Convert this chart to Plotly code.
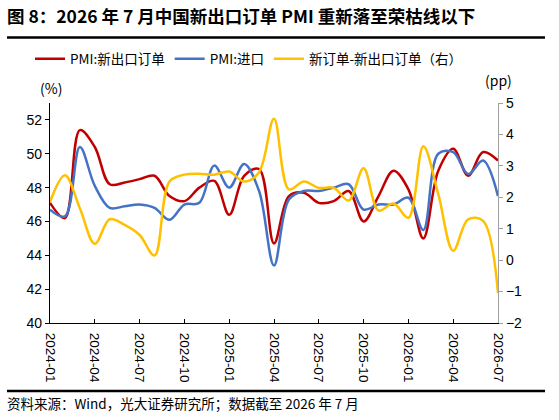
import pandas as pd
import plotly.graph_objects as go

# monthly, 2024-01 .. 2026-07
months = pd.date_range("2024-01-01", "2026-07-01", freq="MS").strftime("%Y-%m").tolist()

pmi_new_export = [47.1, 46.2, 51.4, 50.4, 48.2, 48.3, 48.5, 48.7, 47.5, 47.2,
                  48.0, 48.4, 46.4, 48.7, 49.1, 44.7, 47.5, 47.7, 47.1, 47.2,
                  47.8, 46.0, 47.5, 49.0, 47.9, 45.0, 49.0, 50.3, 48.7, 50.1, 49.6]
pmi_import = [46.7, 46.3, 50.4, 48.1, 46.8, 46.9, 47.0, 46.8, 46.1, 47.0,
              47.1, 49.3, 48.0, 49.4, 47.8, 43.4, 47.3, 47.8, 47.8, 48.0,
              48.2, 46.7, 47.0, 47.0, 47.4, 45.5, 50.0, 50.1, 48.8, 49.6, 47.5]
new_minus_export = [1.85, 2.7, 1.65, 0.52, 1.3, 1.12, 0.8, 0.15, 2.5, 2.72,
                    2.75, 2.72, 2.82, 2.5, 2.8, 4.5, 2.25, 2.5, 2.3, 2.3,
                    1.9, 2.92, 1.58, 1.8, 1.35, 3.62, 2.1, 0.3, 1.3, 1.25, -1.05]

W, H = 559, 420
ML, MR, MT, MB = 50, 61, 103, 97
PW, PH = W - ML - MR, H - MT - MB


def px(x):
    return (x - ML) / PW


def py(y):
    return (H - MB - y) / PH


CJK = "Noto Sans CJK SC"
TICKF = "Liberation Sans, Noto Sans CJK SC"

fig = go.Figure()
fig.add_trace(go.Scatter(x=months, y=pmi_new_export, name="PMI:新出口订单", mode="lines",
                         line=dict(color="#C00000", width=2.5, shape="spline", smoothing=1)))
fig.add_trace(go.Scatter(x=months, y=pmi_import, name="PMI:进口", mode="lines",
                         line=dict(color="#4472C4", width=2.5, shape="spline", smoothing=1)))
fig.add_trace(go.Scatter(x=months, y=new_minus_export, name="新订单-新出口订单（右）", mode="lines",
                         yaxis="y2",
                         line=dict(color="#FFC000", width=2.5, shape="spline", smoothing=1)))

fig.update_layout(
    width=W, height=H,
    margin=dict(l=ML, r=MR, t=MT, b=MB, autoexpand=False),
    paper_bgcolor="white", plot_bgcolor="white",
    font=dict(family=CJK, size=13, color="black"),
    xaxis=dict(type="category", range=[0, len(months) - 1],
               tickvals=months[::3], ticktext=months[::3], tickangle=90,
               ticks="inside", ticklen=4, tickcolor="black", ticklabelstandoff=6,
               showline=True, linecolor="black", linewidth=1.3, showgrid=False,
               tickfont=dict(family=TICKF, size=13.5), automargin=False),
    yaxis=dict(range=[40, 53], tickvals=[40, 42, 44, 46, 48, 50, 52],
               ticks="outside", ticklen=4, tickcolor="black",
               showline=True, linecolor="black", linewidth=1.3, showgrid=False,
               zeroline=False, tickfont=dict(family=TICKF, size=14), automargin=False),
    yaxis2=dict(range=[-2, 5], dtick=1, overlaying="y", side="right",
                ticks="outside", ticklen=4, tickcolor="#A0A0A0",
                showline=True, linecolor="#A0A0A0", linewidth=1.3, showgrid=False,
                zeroline=False, tickfont=dict(family=TICKF, size=14), automargin=False),
    legend=dict(orientation="h", x=px(30), xanchor="left", y=py(59), yanchor="middle",
                font=dict(family=CJK, size=13.5), bgcolor="rgba(0,0,0,0)"),
    showlegend=True,
)

fig.add_shape(type="line", xref="paper", yref="paper", x0=px(7), x1=px(545),
              y0=py(37.5), y1=py(37.5), line=dict(color="black", width=2.5))
fig.add_shape(type="line", xref="paper", yref="paper", x0=px(7), x1=px(545),
              y0=py(391), y1=py(391), line=dict(color="black", width=2.5))

fig.add_annotation(text="<b>图 8：2026 年 7 月中国新出口订单 PMI 重新落至荣枯线以下</b>",
                   xref="paper", yref="paper", x=px(5), y=py(15), xanchor="left", yanchor="middle",
                   showarrow=False, font=dict(family=CJK, size=17.5, color="black"))
fig.add_annotation(text="资料来源：Wind，光大证券研究所；数据截至 2026 年 7 月",
                   xref="paper", yref="paper", x=px(5), y=py(403), xanchor="left", yanchor="middle",
                   showarrow=False, font=dict(family=CJK, size=13.5, color="black"))
fig.add_annotation(text="(%)", xref="paper", yref="paper", x=px(51), y=py(88),
                   xanchor="center", yanchor="middle", showarrow=False,
                   font=dict(family=CJK, size=14))
fig.add_annotation(text="(pp)", xref="paper", yref="paper", x=px(498), y=py(80),
                   xanchor="center", yanchor="middle", showarrow=False,
                   font=dict(family=CJK, size=14))

# page has a default body margin; drop it so the figure sits at the window corner
fig.write_html("out.html", config={"displayModeBar": False},
               post_script="document.body.style.margin='0';")
